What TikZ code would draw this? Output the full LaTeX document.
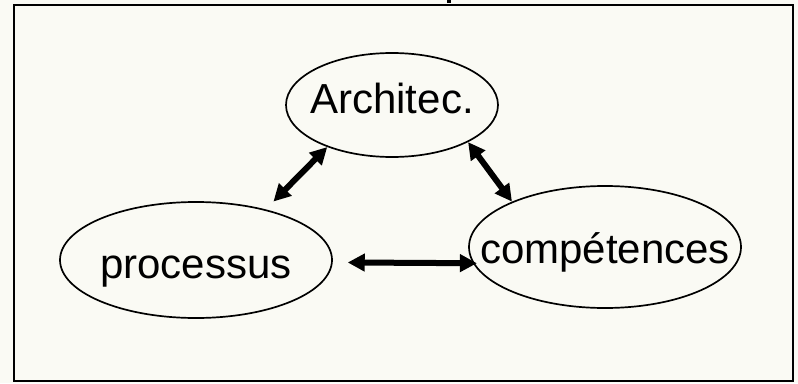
\documentclass[tikz,border=0pt]{standalone}
\usepackage{fontspec}
\setmainfont{Liberation Sans}
\usetikzlibrary{arrows.meta,shapes.geometric}
\definecolor{PaperWhite}{RGB}{250,250,244}
\tikzset{
  bubble/.style={draw=black,ellipse,line width=1.7pt,inner xsep=-40pt,
    inner ysep=-10pt,text height=32pt,text depth=8pt},
  frame/.style={draw=black,line width=2pt},
  link/.style={{Triangle[length=17pt,width=17pt]}-{Triangle[length=17pt,width=17pt]},
    line width=6pt,black}
}

\begin{document}
\begin{tikzpicture}[x=1pt,y=-1pt,font=\fontsize{42pt}{50pt}\selectfont]
  \fill[PaperWhite] (0,0) rectangle (798,383);
  \useasboundingbox (0,0) rectangle (798,383);
  \fill[black] (447,0) rectangle (451,3);
  \draw[frame] (14,5) rectangle (793,381);
  \node[bubble,minimum width=212pt,minimum height=104pt,text height=28pt,text depth=12pt]
    (arch) at (392,105) {Architec.};
  \node[bubble,minimum width=272pt,minimum height=116pt,text height=40pt,text depth=4pt]
    (proc) at (196,260) {processus};
  \node[bubble,minimum width=272pt,minimum height=122pt,text height=38pt,text depth=6pt]
    (comp) at (605,247) {compétences};
  \draw[link,shorten <=11pt] (proc.36) -- (arch.213);
  \draw[link] (arch.334) -- (comp.154);
  \draw[link,shorten <=15pt,shorten >=-4pt] (proc.359) -- (comp.187);
\end{tikzpicture}
\end{document}
